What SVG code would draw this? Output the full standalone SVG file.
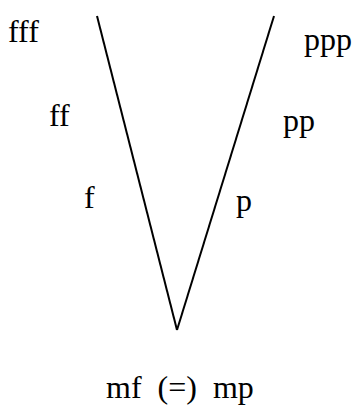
<svg xmlns="http://www.w3.org/2000/svg" width="353" height="407" viewBox="0 0 353 407">
<style>
text{font-family:"Liberation Serif","Times New Roman",serif;font-size:32px;fill:#000;white-space:pre}
.ln{stroke:#000;stroke-width:2;fill:none}
</style>
<rect width="353" height="407" fill="#fff"/>
<g id="connectors">
<line class="ln" x1="97" y1="16" x2="177" y2="330"/>
<line class="ln" x1="274" y1="16" x2="177" y2="330"/>
</g>
<g id="fff"><text x="8" y="42">fff</text></g>
<g id="ppp"><text x="304" y="50">ppp</text></g>
<g id="ff"><text x="49" y="126">ff</text></g>
<g id="pp"><text x="283" y="131">pp</text></g>
<g id="f"><text x="84" y="208">f</text></g>
<g id="p"><text x="236" y="211">p</text></g>
<g id="mfmp"><text x="106" y="398" xml:space="preserve">mf  (=)  mp</text></g>
</svg>
